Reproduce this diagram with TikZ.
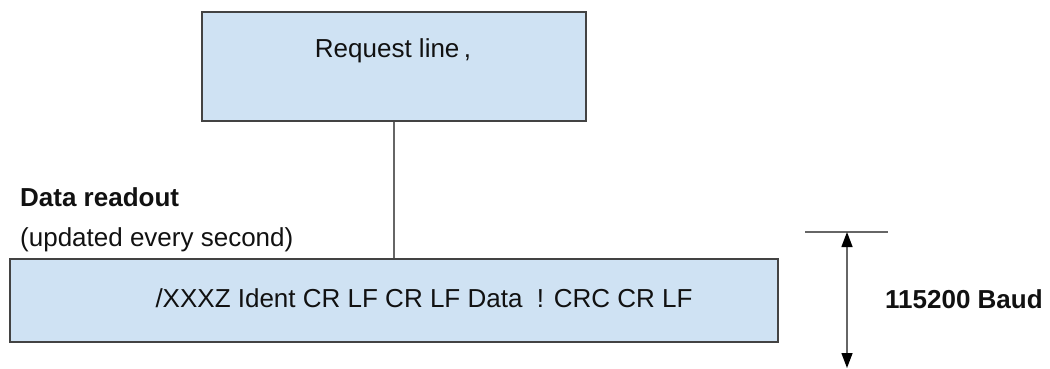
\documentclass[tikz,border=0pt]{standalone}
\usepackage{fontspec}
\setmainfont{Liberation Sans}
\usetikzlibrary{arrows.meta,calc}
\definecolor{boxfill}{HTML}{CFE2F3}
\definecolor{boxline}{HTML}{434343}
\definecolor{lineg}{HTML}{666666}
\definecolor{txt}{HTML}{111111}
\begin{document}
\begin{tikzpicture}[x=1bp,y=-1bp,
  box/.style={draw=boxline, line width=1.3bp, fill=boxfill, inner sep=0pt},
  lbl/.style={inner sep=0pt, text=txt, font=\fontsize{26bp}{30bp}\selectfont},
  blbl/.style={lbl, font=\fontsize{26bp}{30bp}\selectfont\bfseries},
  conn/.style={draw=lineg, line width=1.4bp},
  dimtip/.style={{Triangle[length=15bp,width=11bp,color=black]}-{Triangle[length=15bp,width=11bp,color=black]}}
]
\useasboundingbox (0,0) rectangle (1050,368);
% boxes
\node[box, minimum width=384bp, minimum height=109bp] (req) at (394,66.5) {};
\node[box, minimum width=768bp, minimum height=83bp] (data) at (394,300.5) {};
% texts
\node[lbl, anchor=base] (reqtext) at (393,57) {Request line\,,};
\node[lbl, anchor=base] (datatext) at (424,307) {/XXXZ Ident CR LF CR LF Data \ ! CRC CR LF};
\node[blbl, anchor=base west] (title) at (20,206) {Data readout};
\node[lbl, anchor=base west] (sub) at (20,246) {(updated every second)};
\node[blbl, anchor=base west] (baud) at (885,308) {115200 Baud};
% connector
\draw[conn] (req.south) -- (data.north);
% dimension
\coordinate (dimL) at (805,232);
\coordinate (dimR) at (888,232);
\coordinate (dimT) at (847,232);
\coordinate (dimB) at (847,368);
\draw[conn] (dimL) -- (dimR);
\draw[conn, dimtip] (dimT) -- (dimB);
\end{tikzpicture}
\end{document}
